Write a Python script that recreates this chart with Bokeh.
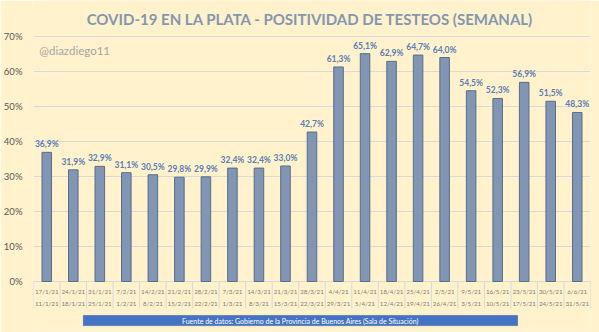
from bokeh.plotting import figure
from bokeh.models import ColumnDataSource, FixedTicker, Label, Range1d
from bokeh.core.properties import value
from bokeh.embed import file_html
from bokeh.resources import INLINE

week_end = ["17/1/21", "24/1/21", "31/1/21", "7/2/21", "14/2/21", "21/2/21", "28/2/21",
            "7/3/21", "14/3/21", "21/3/21", "28/3/21", "4/4/21", "11/4/21", "18/4/21",
            "25/4/21", "2/5/21", "9/5/21", "16/5/21", "23/5/21", "30/5/21", "6/6/21"]
week_start = ["11/1/21", "18/1/21", "25/1/21", "1/2/21", "8/2/21", "15/2/21", "22/2/21",
              "1/3/21", "8/3/21", "15/3/21", "22/3/21", "29/3/21", "5/4/21", "12/4/21",
              "19/4/21", "26/4/21", "3/5/21", "10/5/21", "17/5/21", "24/5/21", "31/5/21"]
positividad = [36.9, 31.9, 32.9, 31.1, 30.5, 29.8, 29.9, 32.4, 32.4, 33.0, 42.7,
               61.3, 65.1, 62.9, 64.7, 64.0, 54.5, 52.3, 56.9, 51.5, 48.3]
y_ticks = [0, 10, 20, 30, 40, 50, 60, 70]

n = len(positividad)
idx = list(range(n))
src = ColumnDataSource(dict(
    x=idx, y=positividad,
    lbl=[("%.1f%%" % v).replace(".", ",") for v in positividad],
    top=week_end, bot=week_start,
))

BG = "#FFF2CC"
p = figure(width=599, height=332, output_backend="svg", toolbar_location=None,
           x_range=Range1d(-0.5, n - 0.5), y_range=Range1d(-14, 80.29),
           min_border_left=32, min_border_right=9, min_border_top=0, min_border_bottom=2,
           background_fill_color=BG, border_fill_color=BG)
p.outline_line_color = None
p.xaxis.visible = False
p.xgrid.visible = False

ya = p.yaxis[0]
ya.ticker = FixedTicker(ticks=y_ticks)
ya.major_label_overrides = {t: f"{t}%" for t in y_ticks}
ya.axis_line_color = None
ya.major_tick_line_color = None
ya.minor_tick_line_color = None
ya.major_label_text_font = "Lato"
ya.major_label_text_font_size = "9.5px"
ya.major_label_text_color = "#595959"
ya.major_label_standoff = 5
p.ygrid.ticker = FixedTicker(ticks=y_ticks)
p.ygrid.grid_line_color = "#D9D9D9"

p.vbar(x="x", top="y", bottom=0, width=0.36, source=src,
       fill_color="#8096B4", line_color="#5B6C86", line_width=1)

p.text(x="x", y="y", text="lbl", source=src, y_offset=-3,
       text_align="center", text_baseline="bottom",
       text_font=value("Lato"), text_font_style="bold",
       text_font_size="8.5px", text_color="#5A7DB5")

# category axis (two levels) with separators
seps = [i - 0.5 for i in range(n + 1)]
p.segment(x0=seps, y0=[0] * (n + 1), x1=seps, y1=[-7.7] * (n + 1),
          line_color="#D9D9D9", line_width=1)
p.text(x="x", y=-2.9, text="top", source=src, text_align="center",
       text_baseline="middle", text_font=value("Lato"), text_font_size="6.2px",
       text_color="#7F7F7F")
p.text(x="x", y=-6.3, text="bot", source=src, text_align="center",
       text_baseline="middle", text_font=value("Lato"), text_font_size="6.2px",
       text_color="#7F7F7F")

# source box
p.quad(left=[1.38], right=[17.75], bottom=[-12.6], top=[-9.7],
       fill_color="#4472C4", line_color="#2F5597", line_width=0.5)
p.add_layout(Label(x=9.56, y=-11.15, text="Fuente de datos: Gobierno de la Provincia de Buenos Aires (Sala de Situación)",
                   text_align="center", text_baseline="middle", text_font="Lato",
                   text_font_size="7px", text_color="white"))

p.add_layout(Label(x=10, y=74.9, text="COVID-19 EN LA PLATA - POSITIVIDAD  DE TESTEOS (SEMANAL)",
                   text_align="center", text_baseline="middle", text_font="Lato",
                   text_font_style="bold", text_font_size="15px", text_color="#8497B0"))
p.add_layout(Label(x=-0.28, y=66, text="@diazdiego11",
                   text_align="left", text_baseline="middle", text_font="Lato",
                   text_font_size="11.5px", text_color="#A6A6A6"))

open("out.html", "w").write(file_html(p, INLINE))
